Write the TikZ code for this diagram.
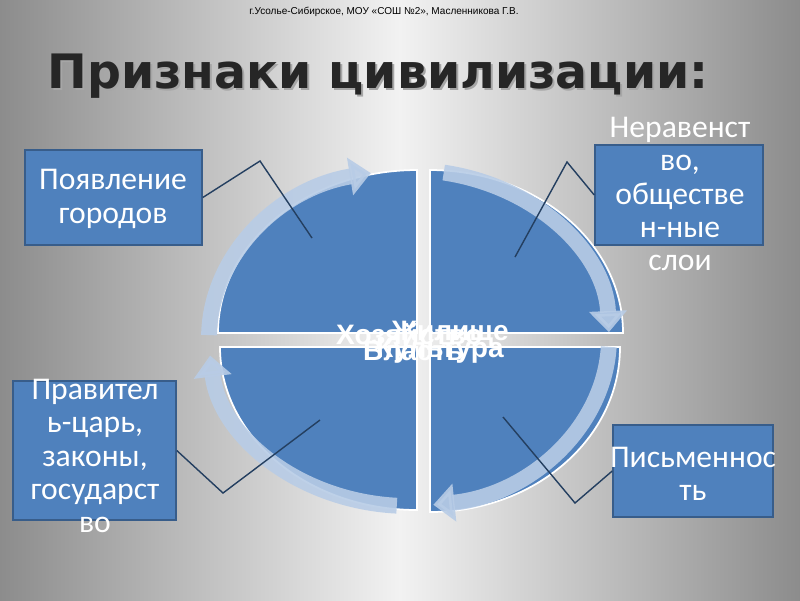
\documentclass[tikz,border=0pt]{standalone}
\usepackage{fontspec}
\setmainfont{Carlito}
\newfontfamily\titlefont{DejaVu Sans}
\newfontfamily\hdrfont{Liberation Sans}
\usetikzlibrary{arrows.meta,positioning,calc}
\definecolor{boxBlue}{RGB}{79,129,189}
\definecolor{boxEdge}{RGB}{56,93,138}
\definecolor{bandBlue}{RGB}{184,204,230}
\definecolor{linkNavy}{RGB}{36,63,96}
\definecolor{bgEdge}{RGB}{140,140,140}
\definecolor{bgMid}{RGB}{242,242,242}

\tikzset{
  signbox/.style={draw=boxEdge,line width=0.9pt,fill=boxBlue},
  signtext/.style={text=white,align=center,font=\fontsize{18}{19}\selectfont},
  band/.style={line width=9pt,bandBlue,opacity=0.9,-{Triangle[length=12pt,width=21pt]}},
  link/.style={linkNavy,line width=0.8pt},
  quad/.style={fill=boxBlue,draw=white,line width=1pt},
  core/.style={text=white,font=\hdrfont\bfseries\fontsize{16}{18}\selectfont}
}

\begin{document}
\begin{tikzpicture}[x=0.02cm,y=-0.02cm]
  \useasboundingbox (0,0) rectangle (800,600);
  % background
  \shade[left color=bgEdge,right color=bgEdge,middle color=bgMid] (0,0) rectangle (800,600);

  % header and title
  \node[font=\hdrfont\fontsize{5.7}{7}\selectfont] (hdr) at (384,12) {г.Усолье-Сибирское, МОУ «СОШ №2», Масленникова Г.В.};
  \node[font=\titlefont\bfseries\fontsize{27}{30}\selectfont,text=gray!70] (titleshadow) at (380,78) {Признаки цивилизации:};
  \node[font=\titlefont\bfseries\fontsize{27}{30}\selectfont,text=black!85] (title) at (378,76) {Признаки цивилизации:};

  % four quarters
  \fill[quad] (417,333) -- ++(-199,0) arc[start angle=180,end angle=270,x radius=199,y radius=163] -- cycle;
  \fill[quad] (430,333) -- ++(193,0) arc[start angle=0,end angle=-90,x radius=193,y radius=163] -- cycle;
  \fill[quad] (430,347) -- ++(190,0) arc[start angle=0,end angle=90,x radius=190,y radius=165] -- cycle;
  \fill[quad] (417,347) -- ++(-197,0) arc[start angle=180,end angle=90,x radius=197,y radius=163] -- cycle;

  % cycle arrows
  \foreach \a/\b in {181/259,280/358,3/83,93.5/174}{
    \draw[band] (409,338) ++(\a:200 and 168) arc[start angle=\a,end angle=\b,x radius=200,y radius=168];
  }

  % overlapping centre words
  \node[core,anchor=west] (eco) at (330,334) {Хозяйство};
  \node[core,anchor=east] (home) at (515,334) {Жилище};
  \node[core,anchor=west] (power) at (357,351) {Власть};
  \node[core,anchor=east] (cult) at (510,351) {Культура};

  % boxes
  \node[signbox,minimum width=3.54cm,minimum height=1.9cm] (city) at (113.5,197.5) {};
  \node[signbox,minimum width=3.36cm,minimum height=2cm] (ineq) at (679,195) {};
  \node[signbox,minimum width=3.26cm,minimum height=2.78cm] (ruler) at (94.5,450.5) {};
  \node[signbox,minimum width=3.2cm,minimum height=1.84cm] (writing) at (693,471) {};

  \node[signtext] (citytxt) at (113,199) {Появление\\городов};
  \node[signtext] (ineqtxt) at (680,194) {Неравенст\\во,\\обществе\\н-ные\\слои};
  \node[signtext] (rulertxt) at (95,456) {Правител\\ь-царь,\\законы,\\государст\\во};
  \node[signtext] (writingtxt) at (693,474) {Письменнос\\ть};

  % links into the quarters
  \coordinate (qTL) at (312,238);
  \coordinate (qTR) at (515,257);
  \coordinate (qBL) at (320,420);
  \coordinate (qBR) at (503,417);
  \draw[link] (city.east) -- (260,161) -- (qTL);
  \draw[link] (ineq.west) -- (567,162) -- (qTR);
  \draw[link] (ruler.east) -- (223,493) -- (qBL);
  \draw[link] (writing.west) -- (575,503) -- (qBR);
\end{tikzpicture}
\end{document}
